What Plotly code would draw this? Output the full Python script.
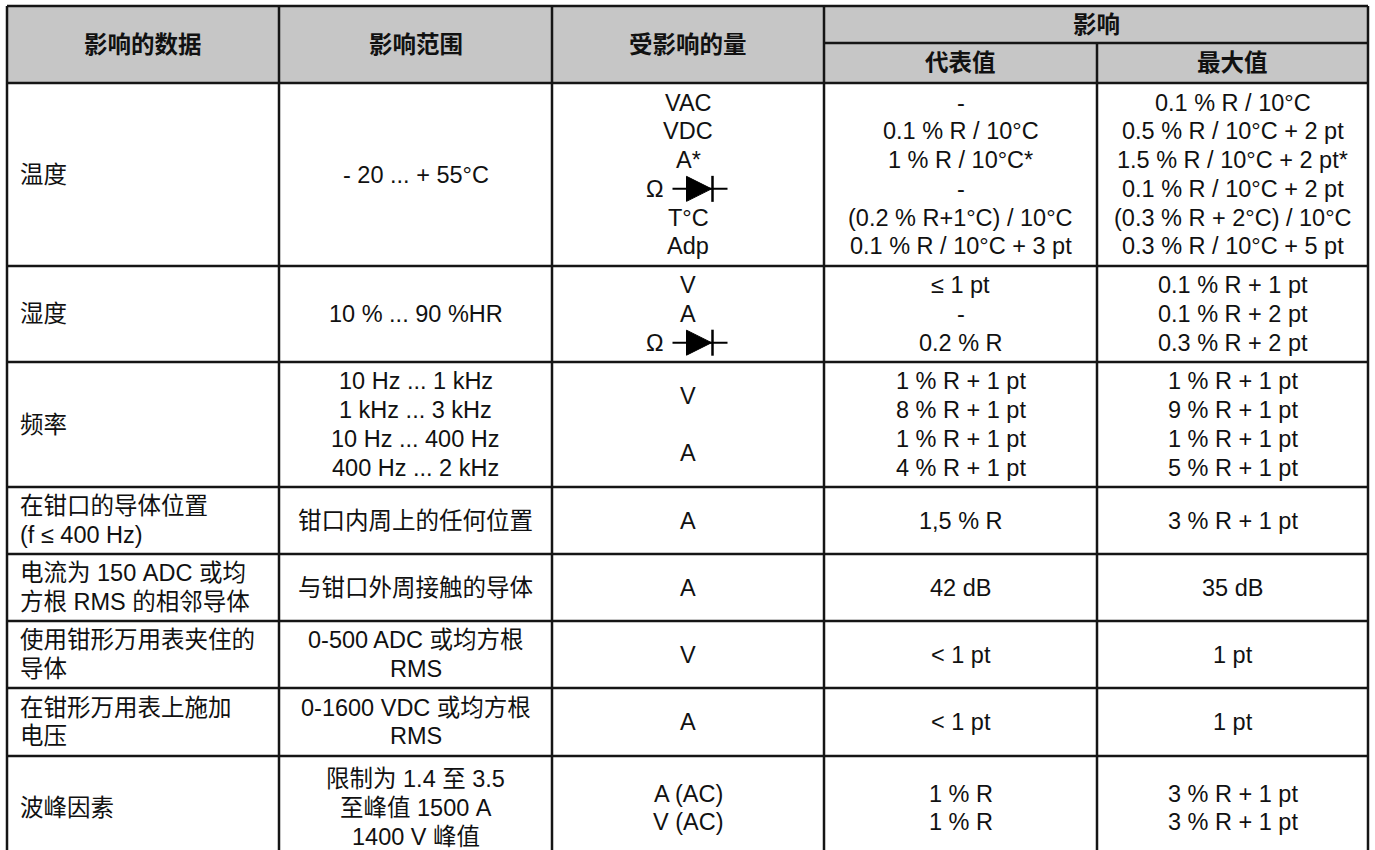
import plotly.graph_objects as go

# ---------------- data (cell texts) ----------------
header_top = ["影响的数据", "影响范围", "受影响的量", "影响"]
header_sub = ["代表值", "最大值"]

col_data = [
    ["温度"],
    ["湿度"],
    ["频率"],
    ["在钳口的导体位置", "(f ≤ 400 Hz)"],
    ["电流为 150 ADC 或均", "方根 RMS 的相邻导体"],
    ["使用钳形万用表夹住的", "导体"],
    ["在钳形万用表上施加", "电压"],
    ["波峰因素"],
]
col_range = [
    ["- 20 ... + 55°C"],
    ["10 % ... 90 %HR"],
    ["10 Hz ... 1 kHz", "1 kHz ... 3 kHz", "10 Hz ... 400 Hz", "400 Hz ... 2 kHz"],
    ["钳口内周上的任何位置"],
    ["与钳口外周接触的导体"],
    ["0-500 ADC 或均方根", "RMS"],
    ["0-1600 VDC 或均方根", "RMS"],
    ["限制为 1.4 至 3.5", "至峰值 1500 A", "1400 V 峰值"],
]
col_quantity = [
    ["VAC", "VDC", "A*", "Ω", "T°C", "Adp"],
    ["V", "A", "Ω"],
    ["V", "A"],
    ["A"],
    ["A"],
    ["V"],
    ["A"],
    ["A (AC)", "V (AC)"],
]
col_typical = [
    ["-", "0.1 % R / 10°C", "1 % R / 10°C*", "-", "(0.2 % R+1°C) / 10°C", "0.1 % R / 10°C + 3 pt"],
    ["≤ 1 pt", "-", "0.2 % R"],
    ["1 % R + 1 pt", "8 % R + 1 pt", "1 % R + 1 pt", "4 % R + 1 pt"],
    ["1,5 % R"],
    ["42 dB"],
    ["< 1 pt"],
    ["< 1 pt"],
    ["1 % R", "1 % R"],
]
col_max = [
    ["0.1 % R / 10°C", "0.5 % R / 10°C + 2 pt", "1.5 % R / 10°C + 2 pt*", "0.1 % R / 10°C + 2 pt",
     "(0.3 % R + 2°C) / 10°C", "0.3 % R / 10°C + 5 pt"],
    ["0.1 % R + 1 pt", "0.1 % R + 2 pt", "0.3 % R + 2 pt"],
    ["1 % R + 1 pt", "9 % R + 1 pt", "1 % R + 1 pt", "5 % R + 1 pt"],
    ["3 % R + 1 pt"],
    ["35 dB"],
    ["1 pt"],
    ["1 pt"],
    ["3 % R + 1 pt", "3 % R + 1 pt"],
]

# ---------------- layout geometry ----------------
W, H = 1375, 850
col_edges = [7, 279, 552, 824, 1097, 1368]
head_top, head_mid, head_bot = 6, 43, 83
row_edges = [83, 266, 362, 487, 554, 621, 688, 756, 860]
LINE = 28.7
FONT = "Liberation Sans, Arial, Noto Sans CJK SC, sans-serif"
FS = 23.5
HEAD_FILL = "#c6c6c6"
LINE_COLOR = "#151515"
LW = 2.5
TEXT_COLOR = "#111111"

fig = go.Figure()
shapes = []
annos = []


def add_text(x, y, txt, xanchor="center", bold=False):
    annos.append(dict(
        x=x, y=y, xref="x", yref="y", text=f"<b>{txt}</b>" if bold else txt,
        showarrow=False, xanchor=xanchor, yanchor="middle",
        font=dict(family=FONT, size=FS, color=TEXT_COLOR),
    ))


# header fill
shapes.append(dict(type="rect", xref="x", yref="y", x0=col_edges[0], x1=col_edges[-1],
                   y0=head_top, y1=head_bot, fillcolor=HEAD_FILL, line=dict(width=0), layer="below"))

# header texts
for i in range(3):
    add_text((col_edges[i] + col_edges[i + 1]) / 2, (head_top + head_bot) / 2, header_top[i], bold=True)
add_text((col_edges[3] + col_edges[5]) / 2, (head_top + head_mid) / 2, header_top[3], bold=True)
for j in range(2):
    add_text((col_edges[3 + j] + col_edges[4 + j]) / 2, (head_mid + head_bot) / 2, header_sub[j], bold=True)


def draw_diode(cx, cy):
    shapes.append(dict(type="line", xref="x", yref="y", x0=cx - 15.5, x1=cx + 39.5, y0=cy, y1=cy,
                       line=dict(color="black", width=2)))
    shapes.append(dict(type="path", xref="x", yref="y",
                       path=f"M {cx - 1.5},{cy - 12.5} L {cx + 23.5},{cy} L {cx - 1.5},{cy + 12.5} Z",
                       fillcolor="black", line=dict(color="black", width=1)))
    shapes.append(dict(type="line", xref="x", yref="y", x0=cx + 24.5, x1=cx + 24.5, y0=cy - 13, y1=cy + 13,
                       line=dict(color="black", width=2.5)))


columns = [col_data, col_range, col_quantity, col_typical, col_max]
for ci, col in enumerate(columns):
    x0, x1 = col_edges[ci], col_edges[ci + 1]
    cx = (x0 + x1) / 2
    for ri, lines in enumerate(col):
        cy = (row_edges[ri] + row_edges[ri + 1]) / 2
        n = len(lines)
        step = LINE
        if ci == 2 and ri == 2:  # V / A each spanning two sub-rows
            step = 2 * LINE
        for k, t in enumerate(lines):
            y = cy + (k - (n - 1) / 2) * step
            if ci == 0:
                add_text(x0 + 11, y, t, xanchor="left")
            elif t == "Ω":
                add_text(cx - 33.5, y, t)
                draw_diode(cx, y)
            else:
                add_text(cx, y, t)

# grid lines
bottom = row_edges[-1]
# horizontal
shapes.append(dict(type="line", xref="x", yref="y", x0=col_edges[0], x1=col_edges[-1], y0=head_top, y1=head_top,
                   line=dict(color=LINE_COLOR, width=LW)))
shapes.append(dict(type="line", xref="x", yref="y", x0=col_edges[3], x1=col_edges[-1], y0=head_mid, y1=head_mid,
                   line=dict(color=LINE_COLOR, width=LW)))
for y in row_edges:
    shapes.append(dict(type="line", xref="x", yref="y", x0=col_edges[0], x1=col_edges[-1], y0=y, y1=y,
                       line=dict(color=LINE_COLOR, width=LW)))
# vertical
for i, x in enumerate(col_edges):
    ytop = head_mid if i == 4 else head_top
    shapes.append(dict(type="line", xref="x", yref="y", x0=x, x1=x, y0=ytop, y1=bottom,
                       line=dict(color=LINE_COLOR, width=LW)))

fig.update_layout(
    width=W, height=H, autosize=False,
    margin=dict(l=0, r=0, t=0, b=0, pad=0),
    paper_bgcolor="white", plot_bgcolor="white",
    xaxis=dict(range=[0, W], visible=False, fixedrange=True),
    yaxis=dict(range=[H, 0], visible=False, fixedrange=True),
    shapes=shapes, annotations=annos, showlegend=False,
)

fig.write_html("out.html", config={"displayModeBar": False},
               post_script="document.body.style.margin='0';document.body.style.overflow='hidden';")
